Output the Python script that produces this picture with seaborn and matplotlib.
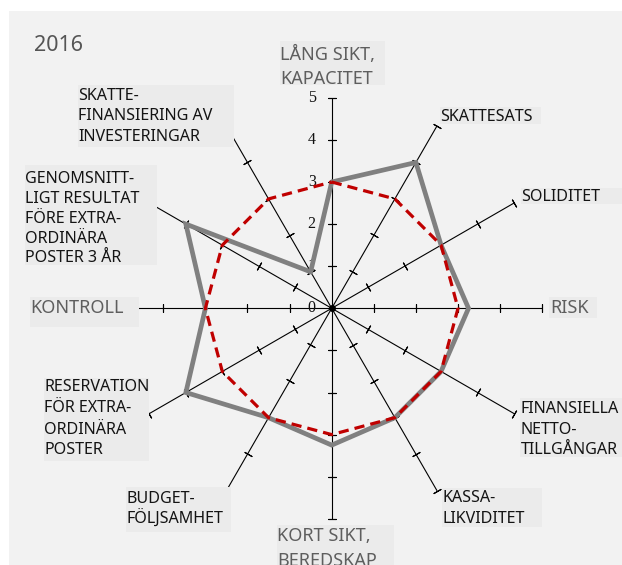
import numpy as np
import pandas as pd
import matplotlib
matplotlib.use("Agg")
import matplotlib.pyplot as plt
import seaborn as sns
from matplotlib.patches import Rectangle

# ---------------- data ----------------
year_label = "2016"
categories = [
    "LÅNG SIKT,\nKAPACITET",
    "SKATTESATS",
    "SOLIDITET",
    "RISK",
    "FINANSIELLA\nNETTO-\nTILLGÅNGAR",
    "KASSA-\nLIKVIDITET",
    "KORT SIKT,\nBEREDSKAP",
    "BUDGET-\nFÖLJSAMHET",
    "RESERVATION\nFÖR EXTRA-\nORDINÄRA\nPOSTER",
    "KONTROLL",
    "GENOMSNITT-\nLIGT RESULTAT\nFÖRE EXTRA-\nORDINÄRA\nPOSTER 3 ÅR",
    "SKATTE-\nFINANSIERING AV\nINVESTERINGAR",
]
utfall = [3, 4, 3, 3.25, 3, 3, 3.25, 3, 4, 3, 4, 1]
referens = [3, 3, 3, 3, 3, 3, 3, 3, 3, 3, 3, 3]
scale_ticks = [0, 1, 2, 3, 4, 5]
main_axes = {0, 3, 6, 9}   # grey, larger labels

# ---------------- layout (pixels) ----------------
W, H = 622, 565
label_layout = [
    # x, baselines, box (x0, y0, x1, y1)
    (280, [60, 84], (280, 41, 385, 85)),
    (440, [121], (440, 107, 541, 124)),
    (521, [201], (521, 188, 622, 204)),
    (550, [313], (549, 297, 597, 318)),
    (521, [413, 433.5, 454], (520, 398, 622, 457)),
    (442, [502, 523], (442, 488, 542, 527)),
    (277, [541, 566], (277, 525, 394, 565)),
    (126, [503, 523], (126, 487, 231, 532)),
    (44, [391, 412, 433.5, 454.5], (44, 378, 149, 461)),
    (30, [313], (30, 297, 139, 327)),
    (25, [183, 203, 223, 243, 262.5], (25, 165, 157, 265)),
    (78, [100, 120.5, 141], (78, 85, 234, 147)),
]

sns.set_theme(style="white")
plt.rcParams["font.family"] = ["Noto Sans", "DejaVu Sans"]

fig = plt.figure(figsize=(W / 100, H / 100), dpi=100, facecolor="white")
fig.add_artist(Rectangle((9 / W, 0), (W - 9) / W, (H - 11) / H,
                         transform=fig.transFigure, facecolor="#f2f2f2",
                         edgecolor="none", zorder=-5))

cx, cy, R = 331.7, 308.3, 210.5
ax = fig.add_axes([(cx - R) / W, (H - cy - R) / H, 2 * R / W, 2 * R / H],
                  projection="polar")
ax.set_theta_zero_location("N")
ax.set_theta_direction(-1)

n = len(categories)
theta = np.linspace(0, 2 * np.pi, n, endpoint=False)

# spokes with cross ticks
for th in theta:
    ax.plot([th, th], [0, scale_ticks[-1]], color="black", lw=0.8,
            clip_on=False, zorder=1)
    deg = np.degrees(th)
    ax.plot([th] * (len(scale_ticks) - 1), scale_ticks[1:], ls="none",
            marker=(2, 2, 90 - deg), ms=6.3, mew=0.8, mec="black",
            clip_on=False, zorder=1)

# scale numbers on the top spoke
for v in scale_ticks:
    ax.annotate(str(v), xy=(0, v), xytext=(-11.5, 0),
                textcoords="offset points", ha="right", va="center",
                fontsize=11.5, family=["Liberation Serif", "DejaVu Serif"],
                color="#111111", zorder=2, annotation_clip=False)

df = pd.DataFrame({
    "theta": np.append(theta, theta[0] + 2 * np.pi),
    "utfall": utfall + [utfall[0]],
    "referens": referens + [referens[0]],
})
sns.lineplot(data=df, x="theta", y="utfall", ax=ax, sort=False,
             estimator=None, color="#808080", lw=3.4, zorder=3,
             solid_joinstyle="miter")
sns.lineplot(data=df, x="theta", y="referens", ax=ax, sort=False,
             estimator=None, color="#c00000", lw=2.3, zorder=4,
             linestyle=(0, (3.2, 1.9)), dash_capstyle="butt")
ax.plot([0], [0], "o", color="black", ms=4, zorder=5)

ax.set_ylim(0, scale_ticks[-1])
ax.set_axis_off()

# labels
for i, (name, (x, baselines, box)) in enumerate(zip(categories, label_layout)):
    x0, y0, x1, y1 = box
    fig.add_artist(Rectangle((x0 / W, 1 - y1 / H), (x1 - x0) / W, (y1 - y0) / H,
                             transform=fig.transFigure, facecolor="#ebebeb",
                             edgecolor="none", zorder=1))
    big = i in main_axes
    for line, b in zip(name.split("\n"), baselines):
        fig.text(x / W, 1 - b / H, line, ha="left", va="baseline",
                 fontsize=13 if big else 11.6,
                 color="#5e5e5e" if big else "#141414", zorder=3)

fig.text(34 / W, 1 - 51 / H, year_label, ha="left", va="baseline",
         fontsize=15.5, color="#555555")

fig.savefig("out.png", dpi=100, facecolor="white")
